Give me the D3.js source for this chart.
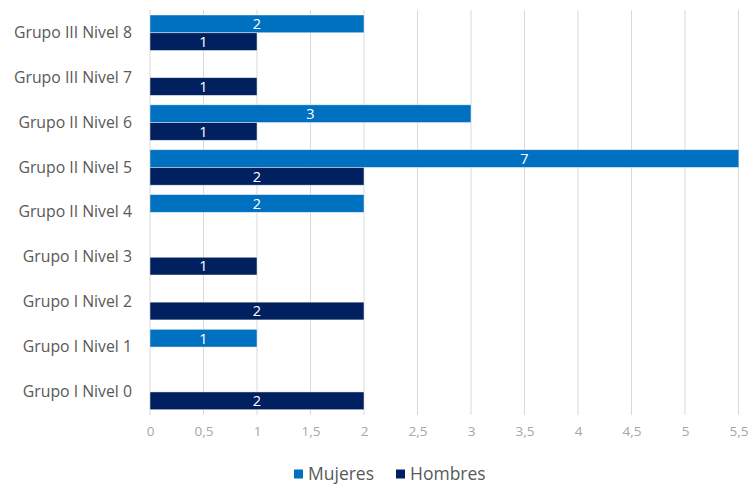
<!DOCTYPE html>
<html>
<head>
<meta charset="utf-8">
<script src="https://cdn.jsdelivr.net/npm/d3@7"></script>
<style>
  body { margin: 0; background: #fff; }
  text { font-family: "Open Sans", "Noto Sans", sans-serif; }
</style>
</head>
<body>
<script>
// categories, top to bottom
var categories = ["Grupo III Nivel 8", "Grupo III Nivel 7", "Grupo II Nivel 6", "Grupo II Nivel 5",
    "Grupo II Nivel 4", "Grupo I Nivel 3", "Grupo I Nivel 2", "Grupo I Nivel 1", "Grupo I Nivel 0"];
var seriesNames = ["Mujeres", "Hombres"];
// null = no bar
var mujeres = [2, null, 3, 7, 2, null, null, 1, null];
var hombres = [1, 1, 1, 2, null, 1, 2, null, 2];
var tickValues = [0, 0.5, 1, 1.5, 2, 2.5, 3, 3.5, 4, 4.5, 5, 5.5];
var colors = ["#0070C0", "#002060"];

var w = 749, h = 484;
var svg = d3.select("body").append("svg")
    .attr("width", w)
    .attr("height", h);

// x scale, 0 .. 5.5
var x = d3.scaleLinear()
    .domain([0, 5.5])
    .range([150, 738.5]);

// row bands
var y = d3.scaleBand()
    .domain(categories)
    .range([10.3, 414.4]);

// series bands inside a row
var ySub = d3.scaleBand()
    .domain(seriesNames)
    .range([0, y.bandwidth()])
    .paddingOuter(0.265);

var locale = d3.formatLocale({ decimal: ",", thousands: ".", grouping: [3], currency: ["", "€"] });
var fmt = locale.format("~g");

// gridlines
svg.append("g").selectAll("line")
    .data(tickValues)
    .enter()
    .append("line")
    .attr("x1", function (d) { return x(d); })
    .attr("x2", function (d) { return x(d); })
    .attr("y1", 10)
    .attr("y2", 415)
    .style("stroke", "#d9d9d9")
    .style("stroke-width", 1);

// x axis tick labels
var xAxis = d3.axisBottom(x)
    .tickValues(tickValues)
    .tickSize(0)
    .tickPadding(0)
    .tickFormat(fmt);
var axis = svg.append("g")
    .attr("transform", "translate(0, 426)")
    .call(xAxis);
axis.select(".domain").remove();
axis.selectAll("text")
    .attr("font-size", 13.5)
    .style("font-family", "'Open Sans', sans-serif")
    .attr("fill", "#a6a6a6");

// category labels
var yAxis = d3.axisLeft(y).tickSize(0).tickPadding(18);
var yg = svg.append("g")
    .attr("transform", "translate(150, 0)")
    .call(yAxis);
yg.select(".domain").remove();
yg.selectAll("text")
    .attr("font-size", 15.8)
    .style("font-family", "'Open Sans', sans-serif")
    .attr("fill", "#595959");

// clip to plot area
svg.append("clipPath")
    .attr("id", "plotClip")
    .append("rect")
    .attr("x", x(0))
    .attr("y", 0)
    .attr("width", x(5.5) - x(0))
    .attr("height", h);

var rows = [];
categories.forEach(function (c, i) {
    rows.push({ cat: c, series: "Mujeres", value: mujeres[i], color: colors[0] });
    rows.push({ cat: c, series: "Hombres", value: hombres[i], color: colors[1] });
});
rows = rows.filter(function (d) { return d.value != null; });

svg.append("g")
    .attr("clip-path", "url(#plotClip)")
    .selectAll("rect")
    .data(rows)
    .enter()
    .append("rect")
    .attr("x", x(0))
    .attr("y", function (d) { return y(d.cat) + ySub(d.series); })
    .attr("width", function (d) { return x(d.value) - x(0); })
    .attr("height", ySub.bandwidth())
    .style("fill", function (d) { return d.color; })
    .style("stroke", "#ffffff")
    .style("stroke-opacity", 0.6)
    .style("stroke-width", 0.75);

// value labels (center of full bar)
svg.append("g").selectAll("text")
    .data(rows)
    .enter()
    .append("text")
    .attr("x", function (d) { return x(d.value / 2); })
    .attr("y", function (d) { return y(d.cat) + ySub(d.series) + ySub.bandwidth() / 2; })
    .attr("dy", "0.37em")
    .attr("text-anchor", "middle")
    .attr("font-size", 14.5)
    .attr("fill", "#ffffff")
    .text(function (d) { return d.value; });

// legend
var legendX = [294, 396];
var legend = svg.append("g").selectAll("g")
    .data(seriesNames)
    .enter()
    .append("g")
    .attr("transform", function (d, i) { return "translate(" + legendX[i] + ", 474)"; });
legend.append("rect")
    .attr("x", 0)
    .attr("y", -4.5)
    .attr("width", 9)
    .attr("height", 9)
    .style("fill", function (d, i) { return colors[i]; });
legend.append("text")
    .attr("x", 14)
    .attr("y", 0)
    .attr("dy", "0.35em")
    .attr("font-size", 17.5)
    .attr("fill", "#595959")
    .text(function (d) { return d; });
</script>
</body>
</html>
